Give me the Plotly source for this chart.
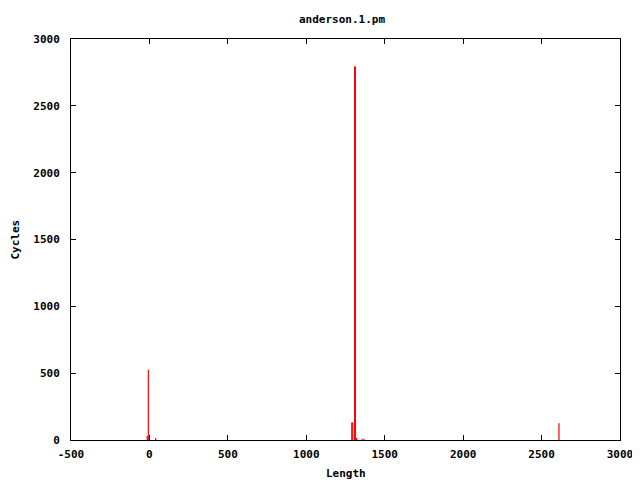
import plotly.graph_objects as go

# Data (impulses)
lengths = [-14, -7, 40, 1290, 1296, 1308, 1313, 1321, 1355, 1368, 2611]
cycles = [30, 525, 15, 130, 130, 2795, 2795, 15, 10, 10, 125]

title_text = "anderson.1.pm"
x_label = "Length"
y_label = "Cycles"
x_ticks = [-500, 0, 500, 1000, 1500, 2000, 2500, 3000]
y_ticks = [0, 500, 1000, 1500, 2000, 2500, 3000]

xs, ys = [], []
for lx, cy in zip(lengths, cycles):
    xs += [lx, lx, None]
    ys += [0, cy, None]

font = dict(family="DejaVu Sans Mono", size=11, color="black")

fig = go.Figure()
fig.add_trace(go.Scatter(x=xs, y=ys, mode="lines",
                         line=dict(color="#ff0000", width=1.2),
                         hoverinfo="skip", showlegend=False))

axis_common = dict(showgrid=False, zeroline=False, showline=True, linecolor="black",
                   linewidth=1, mirror="ticks", ticks="inside", ticklen=5,
                   tickcolor="black", tickfont=font, automargin=False)

# page body has an 8px default margin, compensate in the figure margins
fig.update_layout(
    width=640, height=480,
    margin=dict(l=63, r=28, t=31, b=48, autoexpand=False),
    paper_bgcolor="white", plot_bgcolor="white",
    font=font,
    title=dict(text="<b>" + title_text + "</b>", x=(342 - 8) / 640, xanchor="center",
               y=1 - 11 / 480, yanchor="middle", font=font),
    xaxis=dict(range=[-500, 3000], tickvals=x_ticks,
               ticktext=["<b>%d</b>" % v for v in x_ticks],
               ticklabelstandoff=4,
               **axis_common),
    yaxis=dict(range=[0, 3000], tickvals=y_ticks,
               ticktext=["<b>%d</b>" % v for v in y_ticks],
               ticklabelstandoff=8,
               **axis_common),
)

fig.add_annotation(text="<b>" + x_label + "</b>", xref="paper", yref="paper",
                   x=0.5, y=-33 / 401, xanchor="center", yanchor="middle",
                   showarrow=False, font=font)
fig.add_annotation(text="<b>" + y_label + "</b>", xref="paper", yref="paper",
                   x=-56 / 549, y=0.5, xanchor="center", yanchor="middle", textangle=-90,
                   showarrow=False, font=font)

fig.write_html("out.html")
